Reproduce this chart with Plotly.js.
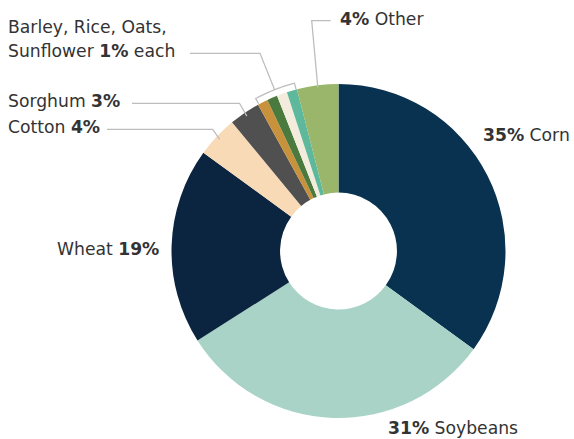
<!DOCTYPE html>
<html>
<head>
<meta charset="utf-8">
<script src="https://cdn.plot.ly/plotly-3.0.1.min.js"></script>
<style>html,body{margin:0;padding:0;background:#fff;}#chart{width:574px;height:439px;}</style>
</head>
<body>
<div id="chart"></div>
<script>
// ---- data ----
const crops = ["Corn", "Soybeans", "Wheat", "Cotton", "Sorghum", "Barley", "Rice", "Oats", "Sunflower", "Other"];
const shares = [35, 31, 19, 4, 3, 1, 1, 1, 1, 4];
const colors = ["#08324f", "#a8d3c6", "#0b2541", "#f8dab7", "#505050", "#c8913c", "#4b7a3f", "#f3ecdc", "#5db89c", "#9ab66b"];

// ---- geometry (layout constants) ----
const W = 574, H = 439;
const cx = 338.5, cy = 251, R = 167;
const px = x => x / W;
const py = y => 1 - y / H;

const total = shares.reduce((a, b) => a + b, 0);
const starts = [];
let acc = 0;
shares.forEach(v => { starts.push(acc / total * 360); acc += v; });
const ends = shares.map((v, i) => starts[i] + v / total * 360);
const mids = shares.map((v, i) => (starts[i] + ends[i]) / 2);

function pt(ang, r) {
  const a = ang * Math.PI / 180;
  return [cx + r * Math.sin(a), cy - r * Math.cos(a)];
}
function pathOf(points) {
  return points.map((p, i) => (i ? "L" : "M") + px(p[0]).toFixed(5) + "," + py(p[1]).toFixed(5)).join(" ");
}
const lineStyle = {color: "#bdbdbd", width: 1.3};
const shapes = [];
function addPath(points) {
  shapes.push({type: "path", xref: "paper", yref: "paper", path: pathOf(points), line: lineStyle});
}

const idx = name => crops.indexOf(name);

// Sorghum leader
addPath([[132, 103.3], [239.5, 103.3], pt(mids[idx("Sorghum")], 163)]);
// Cotton leader
addPath([[107, 129.3], [212.7, 129.3], pt(mids[idx("Cotton")], 163)]);
// Other leader
addPath([[330.7, 20.7], [311.7, 20.7], pt(mids[idx("Other")], 165)]);
// Bracket for the four 1% crops
const gStart = starts[idx("Barley")], gEnd = ends[idx("Sunflower")];
const arc = [];
arc.push(pt(gStart + 0.3, 167.5));
for (let k = 0; k <= 24; k++) arc.push(pt(gStart + 0.3 + (gEnd - gStart - 0.6) * k / 24, 173.5));
arc.push(pt(gEnd - 0.3, 167.5));
addPath(arc);
const gMid = (gStart + gEnd) / 2;
addPath([pt(gMid, 173.5), [260, 53.3], [190, 53.3]]);

// ---- labels ----
const font = {family: "DejaVu Sans", size: 17.2, color: "#333333"};
function ann(text, x, y, anchor) {
  return {text: text, xref: "paper", yref: "paper", x: px(x), y: py(y), xanchor: anchor, yanchor: "middle",
          showarrow: false, font: font, align: anchor};
}
const annotations = [
  ann("<b>" + shares[idx("Corn")] + "%</b> Corn", 481, 134.5, "left"),
  ann("<b>" + shares[idx("Soybeans")] + "%</b> Soybeans", 386, 428, "left"),
  ann("Wheat <b>" + shares[idx("Wheat")] + "%</b>", 161, 249, "right"),
  ann("Cotton <b>" + shares[idx("Cotton")] + "%</b>", 6, 127, "left"),
  ann("Sorghum <b>" + shares[idx("Sorghum")] + "%</b>", 6, 101, "left"),
  ann("Barley, Rice, Oats,", 6, 27, "left"),
  ann("Sunflower <b>" + shares[idx("Barley")] + "%</b> each", 6, 51.3, "left"),
  ann("<b>" + shares[idx("Other")] + "%</b> Other", 338, 19, "left")
];

const trace = {
  type: "pie",
  labels: crops,
  values: shares,
  sort: false,
  direction: "clockwise",
  rotation: 0,
  hole: 0.35,
  textinfo: "none",
  hoverinfo: "label+percent",
  marker: {colors: colors, line: {width: 0}},
  domain: {x: [px(cx - R), px(cx + R)], y: [py(cy + R), py(cy - R)]}
};

const layout = {
  width: W, height: H,
  margin: {l: 0, r: 0, t: 0, b: 0},
  showlegend: false,
  paper_bgcolor: "#ffffff",
  shapes: shapes,
  annotations: annotations
};

Plotly.newPlot("chart", [trace], layout, {displayModeBar: false, staticPlot: true});
</script>
</body>
</html>
